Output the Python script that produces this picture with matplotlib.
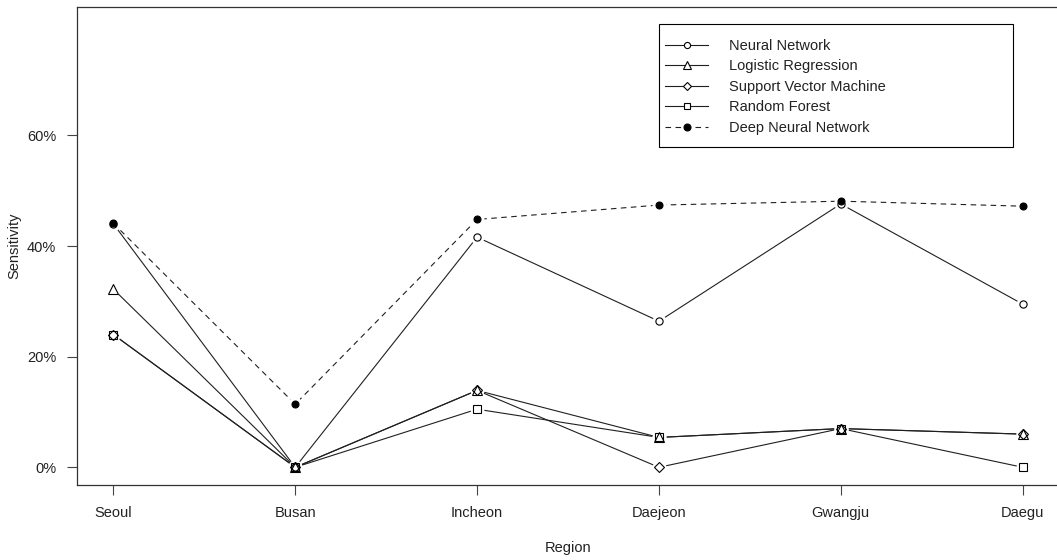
import matplotlib
matplotlib.use("Agg")
import matplotlib.pyplot as plt
from matplotlib.lines import Line2D
from matplotlib.patches import Rectangle
from matplotlib.ticker import FuncFormatter

plt.rcParams["font.family"] = ["Liberation Sans", "DejaVu Sans"]

# data
regions = ["Seoul", "Busan", "Incheon", "Daejeon", "Gwangju", "Daegu"]
neural_network = [0.440, 0.0, 0.416, 0.264, 0.476, 0.295]
logistic_regression = [0.322, 0.0, 0.139, 0.054, 0.070, 0.060]
support_vector_machine = [0.240, 0.0, 0.139, 0.0, 0.070, 0.060]
random_forest = [0.240, 0.0, 0.105, 0.054, 0.070, 0.0]
deep_neural_network = [0.441, 0.114, 0.448, 0.474, 0.481, 0.472]

series = [
    ("Neural Network", neural_network, "o", "white", "-"),
    ("Logistic Regression", logistic_regression, "^", "white", "-"),
    ("Support Vector Machine", support_vector_machine, "D", "white", "-"),
    ("Random Forest", random_forest, "s", "white", "-"),
    ("Deep Neural Network", deep_neural_network, "o", "black", (0, (5, 4))),
]
marker_size = {"o": 5.2, "^": 6.5, "D": 5.0, "s": 5.6}

W, H = 1057, 560
fig = plt.figure(figsize=(W / 100, H / 100), dpi=100)
ax = fig.add_axes([77 / W, 75 / H, 982 / W, 478 / H])

x = list(range(1, len(regions) + 1))
line_color = "#202020"

# lines first, then white gaps around points (like R type="b"), then the symbols
for name, vals, m, fc, ls in series:
    ax.plot(x, vals, color=line_color, lw=0.8, linestyle=ls, zorder=2)
for name, vals, m, fc, ls in series:
    ax.plot(x, vals, linestyle="none", marker="o", markersize=10,
            markerfacecolor="white", markeredgecolor="none", zorder=3)
for name, vals, m, fc, ls in series:
    ms = 5.0 if fc == "black" else marker_size[m]
    ax.plot(x, vals, linestyle="none", marker=m, markersize=ms,
            markerfacecolor=fc if fc == "black" else "none",
            markeredgecolor="black", markeredgewidth=0.8, zorder=4)

ax.set_xlim(0.8, 6.2)
ax.set_ylim(-0.032, 0.832)
ax.set_xticks(x)
ax.set_xticklabels(regions)
ax.set_yticks([0, 0.2, 0.4, 0.6])
ax.yaxis.set_major_formatter(FuncFormatter(lambda v, p: f"{v * 100:.0f}%"))
ax.tick_params(direction="out", length=7, width=0.8, color="#444444",
               labelsize=10.5, labelcolor="#222222", pad=8)
for s in ax.spines.values():
    s.set_color("#333333")
    s.set_linewidth(0.9)

ax.set_xlabel("Region", fontsize=10.5, color="#222222")
ax.set_ylabel("Sensitivity", fontsize=10.5, color="#222222")
ax.xaxis.set_label_coords(0.5, -63 / 478, transform=ax.transAxes)
ax.yaxis.set_label_coords(-63 / 982, 0.5, transform=ax.transAxes)
ax.yaxis.label.set_va("center")
ax.xaxis.label.set_va("center")

# legend box drawn separately so the entries can sit where they belong
fig.add_artist(Rectangle((659 / W, 1 - 147 / H), 354 / W, 123 / H,
                         transform=fig.transFigure, facecolor="white",
                         edgecolor="black", linewidth=0.8, zorder=5))
handles = []
for name, vals, m, fc, ls in series:
    ms = 5.0 if fc == "black" else marker_size[m] * 0.85
    handles.append(Line2D([], [], color=line_color, lw=0.8, linestyle=ls,
                          marker=m, markersize=ms,
                          markerfacecolor=fc if fc == "black" else "white",
                          markeredgecolor="black", markeredgewidth=0.8))
leg = fig.legend(handles, [s[0] for s in series],
                 bbox_to_anchor=(665 / W, 1 - 39 / H),
                 bbox_transform=fig.transFigure, loc="upper left",
                 fontsize=10.5, frameon=False, handlelength=2.95,
                 handletextpad=1.44, labelspacing=0.44, borderpad=0,
                 borderaxespad=0)
leg.set_zorder(6)
for t in leg.get_texts():
    t.set_color("#222222")

fig.savefig("out.png", dpi=100)
